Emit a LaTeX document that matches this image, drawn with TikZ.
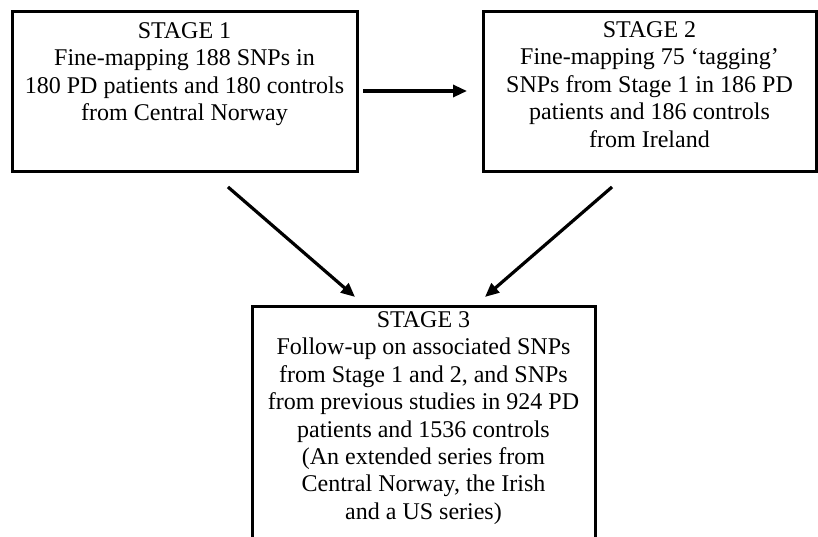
\documentclass[tikz,border=0pt]{standalone}
\usepackage{fontspec}
\setmainfont{Liberation Serif}
\usetikzlibrary{arrows.meta,calc}
\begin{document}
\begin{tikzpicture}[x=0.75pt,y=-0.75pt,
  box/.style={draw,line width=2.25pt,inner sep=0pt,outer sep=0pt},
  txt/.style={align=center,inner sep=0pt,font=\fontsize{18}{20.6}\selectfont},
  arr/.style={line width=2.4pt,-{Triangle[length=10.5pt,width=9pt]}}]
\clip (0,0) rectangle (818,536);
\fill[white] (0,0) rectangle (818,536);
\node[box,minimum width=258.75pt,minimum height=120pt] (s1) at (184.5,91) {};
\node[box,minimum width=249.75pt,minimum height=120pt] (s2) at (649.5,91) {};
\node[box,minimum width=257.25pt,minimum height=190.5pt] (s3) at (423.5,433) {};
\node[txt,anchor=north] (t1) at (184.5,22) {STAGE 1\\Fine-mapping 188 SNPs in\\180 PD patients and 180 controls\\from Central Norway};
\node[txt,anchor=north] (t2) at (649.5,21) {STAGE 2\\Fine-mapping 75 ‘tagging’\\SNPs from Stage 1 in 186 PD\\patients and 186 controls\\from Ireland};
\node[txt,anchor=north] (t3) at (423.5,311) {STAGE 3\\Follow-up on associated SNPs\\from Stage 1 and 2, and SNPs\\from previous studies in 924 PD\\patients and 1536 controls\\(An extended series from\\Central Norway, the Irish\\and a US series)};
\draw[arr,shorten <=4.5pt,shorten >=12pt] (s1.east) -- (s2.west);
\draw[arr,shorten <=18.3pt,shorten >=10.4pt] ($(s1.south)+(25,0)$) -- ($(s3.north)+(-58,0)$);
\draw[arr,shorten <=18.3pt,shorten >=10.4pt] ($(s2.south)+(-19,0)$) -- ($(s3.north)+(51,0)$);
\end{tikzpicture}
\end{document}
